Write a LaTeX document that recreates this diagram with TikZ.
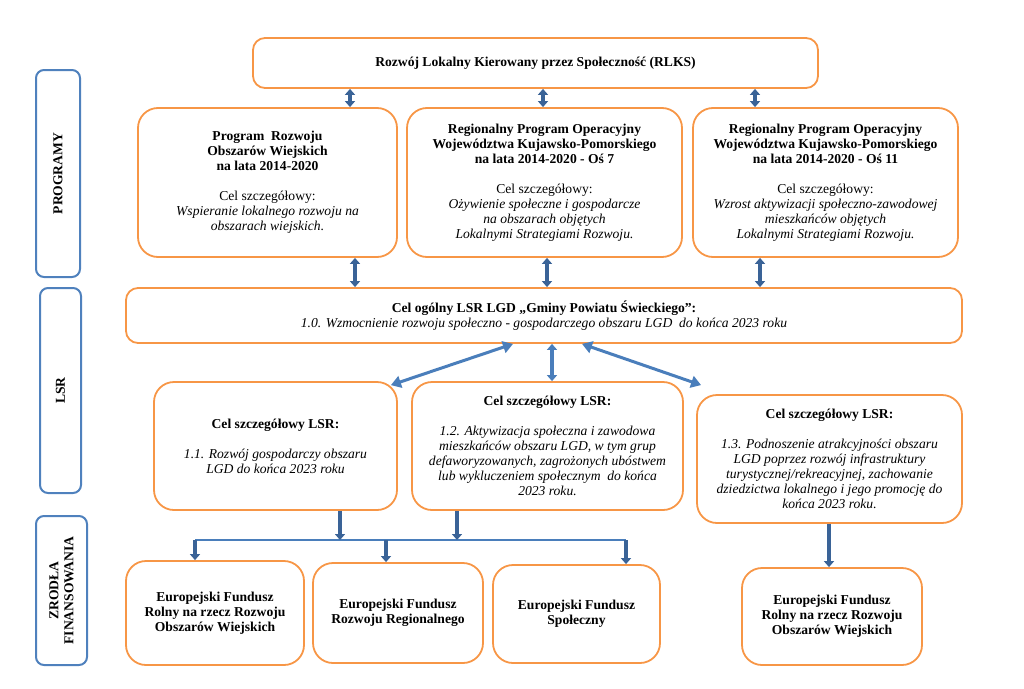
\documentclass[tikz,border=0pt]{standalone}
\usepackage{fontspec}
\setmainfont{Liberation Serif}
\usepackage{tikz}
\usetikzlibrary{arrows.meta}
\definecolor{boxorange}{HTML}{F79646}
\definecolor{sideblue}{HTML}{4F81BD}
\definecolor{arrowdark}{HTML}{3A6397}
\definecolor{arrowlight}{HTML}{4A7EBB}
\tikzset{
	goal box/.style={
		draw=boxorange,
		line width=1.8pt,
		rounded corners=20pt,
		align=center,
		inner sep=2pt,
		font=\fontsize{13.6}{15}\selectfont },
	side box/.style={
		draw=sideblue,
		line width=2pt,
		rounded corners=8pt },
	side label/.style={
		rotate=90,
		align=center,
		font=\bfseries\fontsize{13.6}{15}\selectfont },
	dbl arrow/.style={
		draw=arrowdark,
		line width=3.5pt,
		{Triangle[width=10pt,length=6pt]}-{Triangle[width=10pt,length=6pt]} },
	slant arrow/.style={
		draw=arrowlight,
		line width=3pt,
		{Triangle[width=12pt,length=10pt]}-{Triangle[width=12pt,length=10pt]} },
	down arrow/.style={
		draw=arrowdark,
		line width=4pt,
		-{Triangle[width=10pt,length=6pt]} },
	fund bar/.style={
		draw=arrowlight,
		line width=2pt },
}

\begin{document}
\begin{tikzpicture}[x=1pt, y=-1pt]
		\useasboundingbox (0,0) rectangle (1024,688);

		% side labels
		\node [side box, minimum width=44pt, minimum height=207pt] (side-prog) at (58,173.5) {};
		\node [side label] (side-prog-txt) at (side-prog.center) {PROGRAMY};
		\node [side box, minimum width=41pt, minimum height=205pt] (side-lsr) at (60.5,390.5) {};
		\node [side label] (side-lsr-txt) at (side-lsr.center) {LSR};
		\node [side box, minimum width=51pt, minimum height=149pt] (side-fund) at (61.5,590.5) {};
		\node [side label] (side-fund-txt) at (side-fund.center) {ZRODŁA\\FINANSOWANIA};

		% programs
		\node [goal box, rounded corners=12pt, minimum width=565pt, minimum height=50pt] (rlks) at (535.5,63)
		{\textbf{Rozwój Lokalny Kierowany przez Społeczność (RLKS)}};

		\node [goal box, minimum width=259pt, minimum height=149pt] (p1) at (267.5,182.5)
		{\textbf{Program\ \ Rozwoju}\\ \textbf{Obszarów Wiejskich}\\ \textbf{na lata 2014-2020}\\[15pt]
		 Cel szczegółowy:\\ \textit{Wspieranie lokalnego rozwoju na}\\ \textit{obszarach wiejskich.}};
		\node [goal box, minimum width=275pt, minimum height=149pt] (p2) at (544.5,182.5)
		{\textbf{Regionalny Program Operacyjny}\\ \textbf{Województwa Kujawsko-Pomorskiego}\\ \textbf{na lata 2014-2020 - Oś 7}\\[15pt]
		 Cel szczegółowy:\\ \textit{Ożywienie społeczne i gospodarcze}\\ \textit{na obszarach objętych}\\ \textit{Lokalnymi Strategiami Rozwoju.}};
		\node [goal box, minimum width=265pt, minimum height=149pt] (p3) at (825.5,182.5)
		{\textbf{Regionalny Program Operacyjny}\\ \textbf{Województwa Kujawsko-Pomorskiego}\\ \textbf{na lata 2014-2020 - Oś 11}\\[15pt]
		 Cel szczegółowy:\\ \textit{Wzrost aktywizacji społeczno-zawodowej}\\ \textit{mieszkańców objętych}\\ \textit{Lokalnymi Strategiami Rozwoju.}};

		% LSR
		\node [goal box, rounded corners=12pt, minimum width=836pt, minimum height=55pt] (csog) at (544,315.5)
		{\textbf{Cel ogólny LSR LGD „Gminy Powiatu Świeckiego”:}\\
		 \textit{1.0. Wzmocnienie rozwoju społeczno - gospodarczego obszaru LGD\ \ do końca 2023 roku}};

		\node [goal box, minimum width=243pt, minimum height=128pt] (c11) at (275.5,446)
		{\textbf{Cel szczegółowy LSR:}\\[15pt]
		 \textit{1.1. Rozwój gospodarczy obszaru}\\ \textit{LGD do końca 2023 roku}};
		\node [goal box, minimum width=271pt, minimum height=128pt] (c12) at (547.5,446)
		{\textbf{Cel szczegółowy LSR:}\\[15pt]
		 \textit{1.2. Aktywizacja społeczna i zawodowa}\\ \textit{mieszkańców obszaru LGD, w tym grup}\\
		 \textit{defaworyzowanych, zagrożonych ubóstwem}\\ \textit{lub wykluczeniem społecznym\ \ do końca}\\ \textit{2023 roku.}};
		\node [goal box, minimum width=265pt, minimum height=128pt] (c13) at (829.5,459)
		{\textbf{Cel szczegółowy LSR:}\\[15pt]
		 \textit{1.3. Podnoszenie atrakcyjności obszaru}\\ \textit{LGD poprzez rozwój infrastruktury}\\
		 \textit{turystycznej/rekreacyjnej, zachowanie}\\ \textit{dziedzictwa lokalnego i jego promocję do}\\ \textit{końca 2023 roku.}};

		% funds
		\node [goal box, minimum width=178pt, minimum height=104pt] (f1) at (215,613)
		{\textbf{Europejski Fundusz}\\ \textbf{Rolny na rzecz Rozwoju}\\ \textbf{Obszarów Wiejskich}};
		\node [goal box, minimum width=170pt, minimum height=100pt] (f2) at (398,613)
		{\textbf{Europejski Fundusz}\\ \textbf{Rozwoju Regionalnego}};
		\node [goal box, minimum width=167pt, minimum height=98pt] (f3) at (576.5,614)
		{\textbf{Europejski Fundusz}\\ \textbf{Społeczny}};
		\node [goal box, minimum width=180pt, minimum height=97pt] (f4) at (832,616.5)
		{\textbf{Europejski Fundusz}\\ \textbf{Rolny na rzecz Rozwoju}\\ \textbf{Obszarów Wiejskich}};

		% arrows between levels
		\foreach \xa/\xb/\n in {350/355/p1,543/547/p2,755/760/p3} {
		\draw [dbl arrow] (\xa,0 |- rlks.south) -- (\xa,0 |- \n.north);
		\draw [dbl arrow] (\xb,0 |- \n.south) -- (\xb,0 |- csog.north);
		}

		\draw [slant arrow] (513,0 |- csog.south) -- ([shift={(-7,4)}]c11.north east);
		\draw [dbl arrow, draw=arrowlight, line width=3.5pt] (552,0 |- csog.south) -- (552,0 |- c12.north);
		\draw [slant arrow] (582,0 |- csog.south) -- ([shift={(5,-9)}]c13.north west);

		% funding connectors
		\coordinate (bar-l) at (195,540);
		\coordinate (bar-r) at (626,540);
		\draw [fund bar] (bar-l) -- (bar-r);
		\foreach \x in {340,457}
		\draw [down arrow] (\x,0 |- c11.south) -- (\x,0 |- bar-l);
		\foreach \x/\n in {195/f1,386/f2,626/f3}
		\draw [down arrow] (\x,0 |- bar-l) -- (\x,0 |- \n.north);
		\draw [down arrow] (829,0 |- c13.south) -- (829,0 |- f4.north);
\end{tikzpicture}
\end{document}
